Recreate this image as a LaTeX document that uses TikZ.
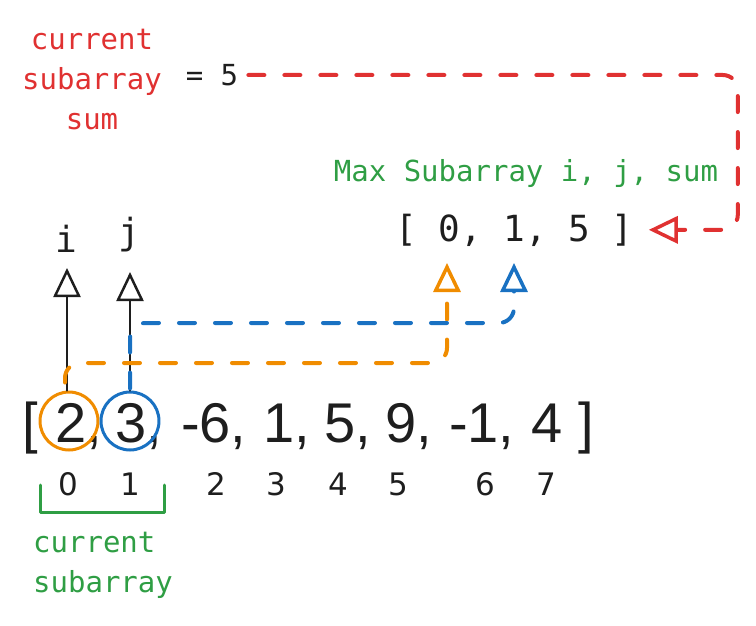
\documentclass[tikz,border=0pt]{standalone}
\usepackage{fontspec}
\usetikzlibrary{arrows.meta}
\newfontfamily\handfont{DejaVu Sans Mono}
\newfontfamily\arrfont{Liberation Sans}
\newfontfamily\idxfont{DejaVu Sans}
\definecolor{exred}{HTML}{E03131}
\definecolor{exgreen}{HTML}{2F9E44}
\definecolor{exorange}{HTML}{F08C00}
\definecolor{exblue}{HTML}{1971C2}
\definecolor{exblack}{HTML}{1E1E1E}
\begin{document}
\begin{tikzpicture}[x=1pt, y=-1pt, line join=round, line cap=round,
  hand/.style={font=\handfont\fontsize{29}{40}\selectfont, inner sep=0pt},
  code/.style={font=\handfont\fontsize{36}{40}\selectfont, text=exblack, inner sep=0pt},
  arr/.style={font=\arrfont\fontsize{56}{60}\selectfont, text=exblack, inner sep=0pt},
  idx/.style={font=\idxfont\fontsize{31}{36}\selectfont, text=exblack, inner sep=0pt},
  ptr/.style={exblack, line width=2.5pt, -{Triangle[open, length=29pt, width=27pt]}},
  dlink/.style={line width=4pt, dash pattern=on 16pt off 20pt, rounded corners=15pt,
    -{Triangle[open, length=29pt, width=27pt, line width=3.5pt]}},
  ring/.style={circle, draw=#1, line width=3pt, minimum size=58pt, inner sep=0pt}]
\useasboundingbox (0,0) rectangle (756,626);
% array and indices
\node[arr, anchor=base] (lb) at (30,442) {[};
\foreach \v/\x [count=\k from 0] in {2/55,3/115,-6/181,1/263,5/324,9/385,-1/449}
  \node[arr, anchor=base west] (e\k) at (\x,442) {\v,};
\node[arr, anchor=base west] (e7) at (531,442) {4};
\node[arr, anchor=base] (rb) at (586,442) {]};
\foreach \x [count=\k from 0] in {68,130,216,276,338,398,485,546}
  \node[idx, anchor=base] (i\k) at (\x,495) {\k};
\draw[exgreen, line width=3pt] (40,485) |- (164,512) -- (164,485);
\node[hand, text=exgreen, align=left, anchor=west] (curlbl) at (33,565) {current\\subarray};
% pointers i and j
\node[code, anchor=base] (lbli) at (66,252) {i};
\node[code, anchor=base] (lblj) at (129,244) {j};
\coordinate (ti) at (67,268);
\coordinate (tj) at (130,272);
\node[ring=exorange] (c0) at (69,421) {};
\node[ring=exblue] (c1) at (130,421) {};
\draw[ptr] ([xshift=-2pt]c0.north) -- (ti);
\draw[ptr] (c1.north) -- (tj);
% max subarray
\node[hand, text=exgreen, anchor=base] (maxlbl) at (526,182) {Max Subarray i, j, sum};
\node[code, anchor=base west] (maxv) at (395,241) {[ 0, 1, 5 ]};
\coordinate (tmi) at (447,263);
\coordinate (tmj) at (514,263);
\draw[dlink, exorange] ([xshift=-4pt,yshift=8pt]c0.north) |- (447,363) -- (tmi);
\draw[dlink, exblue] ([yshift=2pt]c1.north) |- (514,323) -- (tmj);
% current sum
\node[hand, text=exred, align=center] (sumlbl) at (92,80) {current\\subarray\\sum};
\node[hand, text=exblack] (eq) at (212,75) {= 5};
\draw[dlink, exred] ([xshift=10pt]eq.east) -| ([xshift=104pt]maxv.east) -- ([xshift=15pt]maxv.east);
\end{tikzpicture}
\end{document}
